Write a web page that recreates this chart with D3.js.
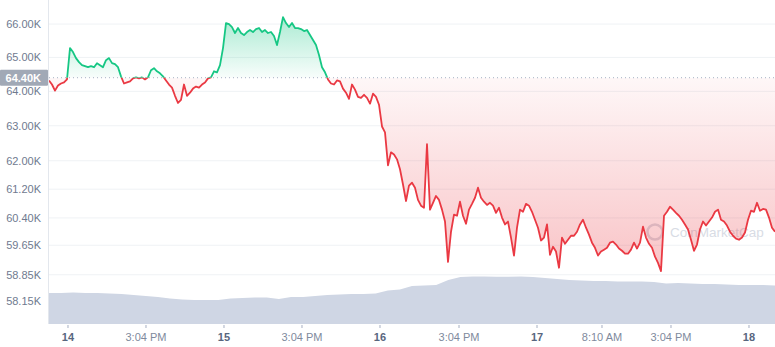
<!DOCTYPE html>
<html>
<head>
<meta charset="utf-8">
<script src="https://cdn.jsdelivr.net/npm/d3@7"></script>
<style>
  html, body { margin: 0; padding: 0; background: #fff; }
  svg { display: block; font-family: "Liberation Sans", Arial, sans-serif; }
</style>
</head>
<body>
<svg id="chart" width="775" height="347"></svg>
<script>
// ---- DATA ----
// Price samples, evenly spaced in sample index (USD)
const prices = [
64320,64200,64020,64170,64230,64260,64350,65280,65160,64980,
64860,64770,64740,64710,64740,64710,64830,64770,64710,64920,
64980,64830,64800,64710,64440,64230,64260,64290,64380,64410,
64380,64410,64350,64410,64620,64680,64590,64530,64440,64320,
64200,64110,63870,63660,63750,64200,63870,63960,64080,64140,
64110,64200,64260,64380,64410,64590,64560,64770,65280,66030,
66000,65910,65730,65880,65730,65670,65760,65820,65760,65850,
65880,65760,65820,65730,65760,65640,65370,65760,66210,66030,
65910,66030,65880,65880,65850,65790,65820,65670,65520,65370,
65070,64710,64560,64350,64230,64200,64320,64290,64080,63960,
63780,64200,64050,63840,63810,63900,63810,63640,63930,63840,
63610,62980,62810,61870,62240,62180,62040,61760,61330,60870,
61300,61380,61240,60900,60740,60680,62470,60630,60820,61010,
60900,60630,60300,59200,60020,60490,60460,60850,60460,60240,
60630,60790,60960,61240,60960,60850,60760,60820,60740,60540,
60680,60410,60220,60300,59860,59370,60130,60630,60570,60790,
60740,60570,60350,60130,59780,59860,60220,59390,59610,59480,
59040,59860,59690,59800,59910,59910,60020,60220,60350,60130,
59940,59720,59580,59370,59480,59530,59580,59720,59750,59670,
59560,59500,59420,59420,59530,59720,59560,59720,60160,59860,
59690,59580,59340,59170,58950,60460,60570,60710,60630,60540,
60460,60350,60220,60080,59800,59500,59670,60080,60300,60190,
60300,60410,60570,60630,60350,60300,60190,60020,59910,59830,
59800,59860,60000,60350,60600,60570,60820,60600,60650,60630,
60410,60130,60020
];
// Volume samples (billions USD), evenly spaced across the same time span
const volumes = [
25.8,25.8,26.3,25.8,25.8,25.4,25.0,24.2,23.3,22.5,
21.3,20.4,20.0,20.0,20.0,21.3,21.7,22.1,22.1,20.8,
22.5,22.5,23.3,24.2,24.6,25.0,25.0,25.4,27.9,28.8,
31.7,32.1,32.5,36.7,39.2,39.6,39.6,39.4,39.4,39.6,
39.2,38.3,37.5,36.7,36.3,35.8,35.8,35.4,35.4,35.4,
35.0,33.8,34.2,33.8,33.3,33.3,32.9,32.5,32.5,32.5,
32.1
];
const baselinePrice = 64400;
const yTickValues = [58150, 58850, 59650, 60400, 61200, 62000, 63000, 64000, 65000, 66000];
// x tick labels and the sample index (fractional) at which each falls
const xTickLabels = ["14", "3:04 PM", "15", "3:04 PM", "16", "3:04 PM", "17", "8:10 AM", "3:04 PM", "18"];
const xTickIndex  = [6.33, 32.33, 58.33, 84.33, 110.33, 136.67, 162.67, 184.33, 207.33, 233.33];
const xTickBold   = [true, false, true, false, true, false, true, false, false, true];

// ---- LAYOUT ----
const W = 775, H = 347;
const margin = { left: 49, right: 0, top: 0, bottom: 23 };
const plotBottom = H - margin.bottom;
const svg = d3.select("#chart");

const x = d3.scaleLinear().domain([0, prices.length - 1]).range([margin.left, W - margin.right]);
const y = d3.scaleLog().domain([57540, 66730]).range([plotBottom, margin.top]);
const xv = d3.scaleLinear().domain([0, volumes.length - 1]).range([margin.left, W - margin.right]);
const yv = d3.scaleLinear().domain([0, 60]).range([plotBottom, plotBottom - 72]);

const green = "#16c784", red = "#ea3943";
const yBase = y(baselinePrice);

// defs
const defs = svg.append("defs");
defs.append("clipPath").attr("id", "clipAbove").append("rect")
  .attr("x", margin.left).attr("y", 0).attr("width", W - margin.left).attr("height", yBase);
defs.append("clipPath").attr("id", "clipBelow").append("rect")
  .attr("x", margin.left).attr("y", yBase).attr("width", W - margin.left).attr("height", plotBottom - yBase);

const gGreen = defs.append("linearGradient").attr("id", "gradGreen")
  .attr("gradientUnits", "userSpaceOnUse").attr("x1", 0).attr("x2", 0)
  .attr("y1", y(d3.max(prices))).attr("y2", yBase);
gGreen.append("stop").attr("offset", 0).attr("stop-color", green).attr("stop-opacity", 0.36);
gGreen.append("stop").attr("offset", 1).attr("stop-color", green).attr("stop-opacity", 0.03);

const gRed = defs.append("linearGradient").attr("id", "gradRed")
  .attr("gradientUnits", "userSpaceOnUse").attr("x1", 0).attr("x2", 0)
  .attr("y1", yBase).attr("y2", y(d3.min(prices)));
gRed.append("stop").attr("offset", 0).attr("stop-color", red).attr("stop-opacity", 0.04);
gRed.append("stop").attr("offset", 1).attr("stop-color", red).attr("stop-opacity", 0.3);

// gridlines
svg.append("g").selectAll("line").data(yTickValues).join("line")
  .attr("x1", margin.left).attr("x2", W)
  .attr("y1", d => y(d)).attr("y2", d => y(d))
  .attr("stroke", "#eff2f5").attr("stroke-width", 1);

// left border
svg.append("line").attr("x1", margin.left - 0.5).attr("x2", margin.left - 0.5)
  .attr("y1", 0).attr("y2", plotBottom).attr("stroke", "#e3e7ed");

// volume
svg.append("path").datum(volumes)
  .attr("d", d3.area().x((d, i) => xv(i)).y0(plotBottom).y1(d => yv(d)))
  .attr("fill", "#cfd6e4");

// watermark
const wm = svg.append("g").attr("opacity", 0.55);
wm.append("circle").attr("cx", 655).attr("cy", 232).attr("r", 7.5)
  .attr("fill", "none").attr("stroke", "#b9c1cf").attr("stroke-width", 2.5);
wm.append("text").attr("x", 670).attr("y", 237).text("CoinMarketCap")
  .attr("fill", "#b9c1cf").attr("font-size", 13.5).attr("font-weight", 400);

// price areas
const area = d3.area().x((d, i) => x(i)).y0(yBase).y1(d => y(d));
svg.append("path").datum(prices).attr("d", area)
  .attr("fill", "url(#gradGreen)").attr("clip-path", "url(#clipAbove)");
svg.append("path").datum(prices).attr("d", area)
  .attr("fill", "url(#gradRed)").attr("clip-path", "url(#clipBelow)");

// baseline dotted
svg.append("line").attr("x1", margin.left).attr("x2", W)
  .attr("y1", yBase).attr("y2", yBase)
  .attr("stroke", "#a6b0c3").attr("stroke-width", 1).attr("stroke-dasharray", "1,3");

// price lines
const line = d3.line().x((d, i) => x(i)).y(d => y(d));
svg.append("path").datum(prices).attr("d", line)
  .attr("fill", "none").attr("stroke", green).attr("stroke-width", 1.8)
  .attr("stroke-linejoin", "round").attr("clip-path", "url(#clipAbove)");
svg.append("path").datum(prices).attr("d", line)
  .attr("fill", "none").attr("stroke", red).attr("stroke-width", 1.8)
  .attr("stroke-linejoin", "round").attr("clip-path", "url(#clipBelow)");

// y axis labels
const fmt = v => d3.format(".2f")(v / 1000) + "K";
svg.append("g").selectAll("text").data(yTickValues).join("text")
  .attr("x", 41).attr("y", d => y(d)).attr("dy", "0.35em")
  .attr("text-anchor", "end").attr("font-size", 11)
  .attr("fill", "#6f7a8f").text(fmt);

// current price label
const lab = svg.append("g");
lab.append("rect").attr("x", 0).attr("y", yBase - 8).attr("width", 48).attr("height", 16)
  .attr("fill", "#a1a9b6").attr("rx", 1);
lab.append("text").attr("x", 41).attr("y", yBase).attr("dy", "0.35em")
  .attr("text-anchor", "end").attr("font-size", 11).attr("font-weight", 700)
  .attr("fill", "#ffffff").text(fmt(baselinePrice));

// x axis ticks
const gx = svg.append("g");
gx.selectAll("line").data(xTickIndex).join("line")
  .attr("x1", d => x(d)).attr("x2", d => x(d))
  .attr("y1", plotBottom + 1).attr("y2", plotBottom + 4)
  .attr("stroke", "#a6b0c3");
gx.selectAll("text").data(xTickLabels).join("text")
  .attr("x", (d, i) => x(xTickIndex[i])).attr("y", plotBottom + 13).attr("dy", "0.35em")
  .attr("text-anchor", "middle").attr("font-size", 11)
  .attr("font-weight", (d, i) => xTickBold[i] ? 700 : 400)
  .attr("fill", (d, i) => xTickBold[i] ? "#58667e" : "#808a9d")
  .text(d => d);
</script>
</body>
</html>
